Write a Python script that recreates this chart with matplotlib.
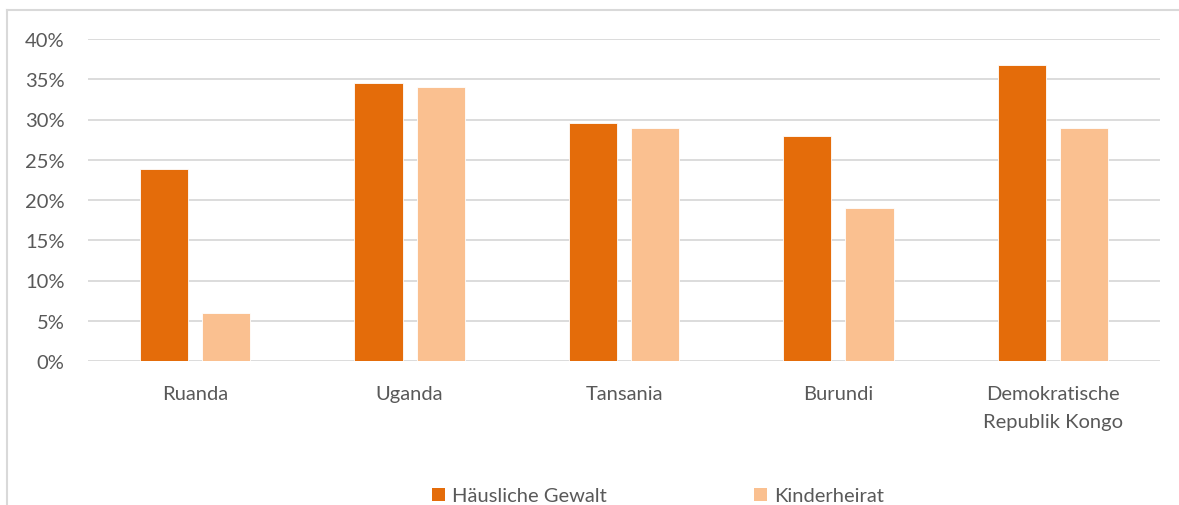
import matplotlib.pyplot as plt
from matplotlib.lines import Line2D
from matplotlib.patches import Patch
import numpy as np

countries = ["Ruanda", "Uganda", "Tansania", "Burundi", "Demokratische\nRepublik Kongo"]
haeusliche_gewalt = [23.8, 34.5, 29.6, 27.9, 36.8]
kinderheirat = [6.0, 34.0, 29.0, 19.0, 29.0]
series_names = ["Häusliche Gewalt", "Kinderheirat"]
y_ticks = [0, 5, 10, 15, 20, 25, 30, 35, 40]

C_HG = "#E46C0A"
C_KH = "#FAC090"
GRID = "#D9D9D9"
TXT = "#595959"
FS = 14.5

plt.rcParams["font.family"] = ["Lato", "DejaVu Sans"]

W, H = 1179, 506
fig = plt.figure(figsize=(W / 100, H / 100), dpi=100)

# outer chart frame (top and left only visible in the crop)
fig.add_artist(Line2D([7.5 / W, 7.5 / W], [0, 1 - 10.5 / H], color=GRID, lw=1.5))
fig.add_artist(Line2D([7.5 / W, 1], [1 - 10.5 / H, 1 - 10.5 / H], color=GRID, lw=1.5))

ax = fig.add_axes([88 / W, 1 - 362 / H, (1160 - 88) / W, (362 - 40) / H])

x = np.arange(len(countries))
width = 0.224
offset = 0.145
ax.bar(x - offset, haeusliche_gewalt, width, color=C_HG, edgecolor="white", linewidth=0.6, zorder=3)
ax.bar(x + offset, kinderheirat, width, color=C_KH, edgecolor="white", linewidth=0.6, zorder=3)

ax.set_xlim(-0.5, len(countries) - 0.5)
ax.set_ylim(0, 40)
ax.set_yticks(y_ticks)
ax.set_yticklabels([f"{v}%" for v in y_ticks])
ax.set_xticks(x)
ax.set_xticklabels(countries, linespacing=1.8)
for v in y_ticks:
    ax.axhline(v, color=GRID, lw=1.3, zorder=1)

for s in ax.spines.values():
    s.set_visible(False)
ax.tick_params(axis="both", length=0, labelsize=FS, colors=TXT)
ax.tick_params(axis="y", pad=17)
ax.tick_params(axis="x", pad=17)
ax.set_axisbelow(True)

handles = [Patch(facecolor=C_HG), Patch(facecolor=C_KH)]
fig.legend(handles, series_names, loc="center", bbox_to_anchor=(658 / W, 9 / H), ncol=2,
           frameon=False, fontsize=FS, labelcolor=TXT, handlelength=0.65, handleheight=0.65,
           handletextpad=0.35, columnspacing=7.3)

fig.savefig("out.png", dpi=100)
